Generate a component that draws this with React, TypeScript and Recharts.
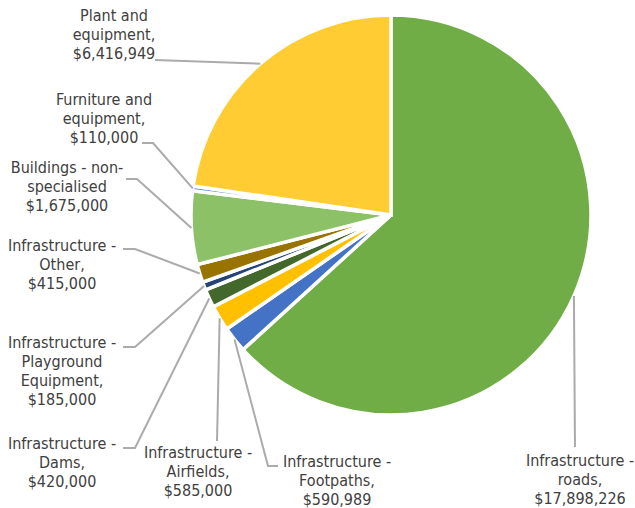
import { PieChart, Pie, Cell } from 'recharts';

// asset classes, clockwise from 12 o'clock
const categories = [
  'Infrastructure - roads',
  'Infrastructure - Footpaths',
  'Infrastructure - Airfields',
  'Infrastructure - Dams',
  'Infrastructure - Playground Equipment',
  'Infrastructure - Other',
  'Buildings - non-specialised',
  'Furniture and equipment',
  'Plant and equipment',
];

const values = [17898226, 590989, 585000, 420000, 185000, 415000, 1675000, 110000, 6416949];

// how each label wraps (the value line is appended)
const labelLines = [
  ['Infrastructure -', 'roads,'],
  ['Infrastructure -', 'Footpaths,'],
  ['Infrastructure -', 'Airfields,'],
  ['Infrastructure -', 'Dams,'],
  ['Infrastructure -', 'Playground', 'Equipment,'],
  ['Infrastructure -', 'Other,'],
  ['Buildings - non-', 'specialised'],
  ['Furniture and', 'equipment,'],
  ['Plant and', 'equipment,'],
];

const colors = [
  '#70AD47',
  '#4472C4',
  '#FFC000',
  '#43682B',
  '#264478',
  '#997300',
  '#8CC168',
  '#698ED0',
  '#FFCD33',
];

// label placement: text centre, first baseline, leader points from the label side
const labelLayout: { x: number; y: number; leader: [number, number][] }[] = [
  { x: 580, y: 466, leader: [[575, 447]] },
  { x: 337, y: 467, leader: [[278, 466], [268, 466]] },
  { x: 198, y: 458, leader: [[217, 441]] },
  { x: 62, y: 449, leader: [[123, 448], [135, 448]] },
  { x: 62, y: 348, leader: [[123, 347], [135, 347]] },
  { x: 62, y: 251, leader: [[123, 249], [135, 249]] },
  { x: 67, y: 173, leader: [[126, 179], [137, 179]] },
  { x: 104, y: 105, leader: [[142, 143], [153, 143]] },
  { x: 114, y: 21, leader: [[155, 60]] },
];

const data = categories.map((name, i) => ({ name, value: values[i] }));

const RAD = Math.PI / 180;
const LINE_H = 19;

function SliceLabel(props: any) {
  const { cx, cy, midAngle, outerRadius, index } = props;
  const layout = labelLayout[index];
  const px = cx + outerRadius * Math.cos(-midAngle * RAD);
  const py = cy + outerRadius * Math.sin(-midAngle * RAD);
  const pts = [...layout.leader, [px, py]].map((p) => p.join(',')).join(' ');
  const lines = [...labelLines[index], '$' + values[index].toLocaleString('en-US')];
  return (
    <g>
      <polyline points={pts} fill="none" stroke="#ABABAB" strokeWidth={2} />
      <text
        x={layout.x}
        y={layout.y}
        textAnchor="middle"
        fill="#404040"
        fontSize={16}
        style={{ fontFamily: "'DejaVu Sans Condensed', 'DejaVu Sans', sans-serif", fontStretch: 'condensed' }}
      >
        {lines.map((l, i) => (
          <tspan key={i} x={layout.x} dy={i === 0 ? 0 : LINE_H}>
            {l}
          </tspan>
        ))}
      </text>
    </g>
  );
}

export default function App() {
  return (
    <div style={{ position: 'fixed', left: 0, top: 0, width: 635, height: 508, background: '#fff' }}>
      <PieChart width={635} height={508} margin={{ top: 0, right: 0, bottom: 0, left: 0 }}>
        <Pie
          data={data}
          dataKey="value"
          nameKey="name"
          cx={391}
          cy={215}
          outerRadius={200}
          startAngle={90}
          endAngle={-270}
          stroke="#fff"
          strokeWidth={3.5}
          labelLine={false}
          label={SliceLabel}
          isAnimationActive={false}
        >
          {data.map((d, i) => (
            <Cell key={d.name} fill={colors[i]} />
          ))}
        </Pie>
      </PieChart>
    </div>
  );
}
